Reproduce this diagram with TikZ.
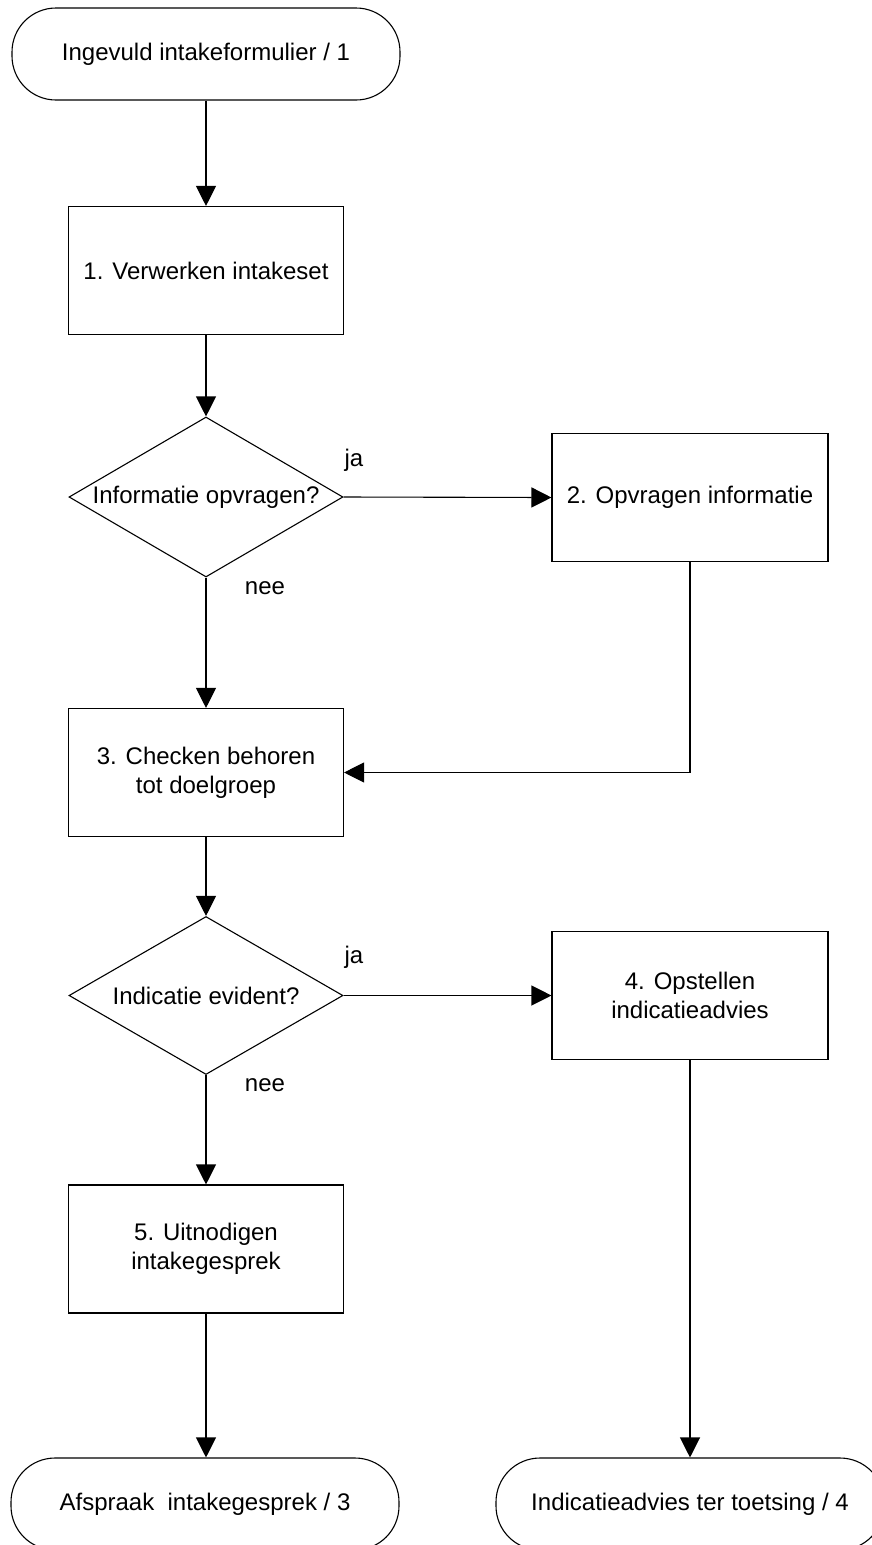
\documentclass[tikz,border=0pt]{standalone}
\usepackage{fontspec}
\setmainfont{Liberation Sans}
\usetikzlibrary{shapes.geometric,arrows.meta}

\begin{document}
\begin{tikzpicture}[x=1pt,y=-1pt,
  every node/.style={font=\fontsize{24}{29}\selectfont, text=black},
  terminal/.style={draw, rectangle, rounded corners=44pt, minimum width=388pt,
    minimum height=92pt, inner sep=0pt, line width=1.1pt},
  process/.style={draw, rectangle, minimum width=275pt, minimum height=128pt,
    inner sep=0pt, align=center, line width=1.1pt},
  decision/.style={draw, diamond, shape aspect=1.71, minimum width=274pt,
    minimum height=160pt, inner sep=0pt, line width=1.1pt},
  flow/.style={line width=1.1pt, -{Triangle[length=20pt,width=20pt]}},
  answer/.style={inner sep=0pt}
]
\useasboundingbox (0,0) rectangle (872,1545);
\clip (0,0) rectangle (872,1545);

% left column
\node[terminal] (start) at (206,54) {Ingevuld intakeformulier / 1};
\node[process]  (p1) at (206,270.5) {1. Verwerken intakeset};
\node[decision] (d1) at (206,497) {Informatie opvragen?};
\node[process]  (p3) at (206,772.5) {3. Checken behoren\\tot doelgroep};
\node[decision, minimum height=158pt] (d2) at (206,995.5) {Indicatie evident?};
\node[process]  (p5) at (206,1249) {5. Uitnodigen\\intakegesprek};
\node[terminal] (end3) at (205,1504) {Afspraak\ \ intakegesprek / 3};

% right column
\node[process, minimum width=276pt] (p2) at (690,497.5) {2. Opvragen informatie};
\node[process, minimum width=276pt] (p4) at (690,995.5) {4. Opstellen\\indicatieadvies};
\node[terminal] (end4) at (690,1504) {Indicatieadvies ter toetsing / 4};

% branch labels
\node[answer] (ja1)  at (354,460)  {ja};
\node[answer] (nee1) at (265,588)  {nee};
\node[answer] (ja2)  at (354,957)  {ja};
\node[answer] (nee2) at (265,1085) {nee};

% connectors
\draw[flow] (start) -- (p1);
\draw[flow] (p1) -- (d1);
\draw[flow] (d1.east) -- (p2.west);
\draw[flow] (d1.south) -- (p3.north);
\draw[flow] (p2.south) |- (p3.east);
\draw[flow] (p3) -- (d2);
\draw[flow] (d2.east) -- (p4.west);
\draw[flow] (d2.south) -- (p5.north);
\draw[flow] (p5) -- (p5 |- end3.north);
\draw[flow] (p4) -- (end4);
\end{tikzpicture}
\end{document}
